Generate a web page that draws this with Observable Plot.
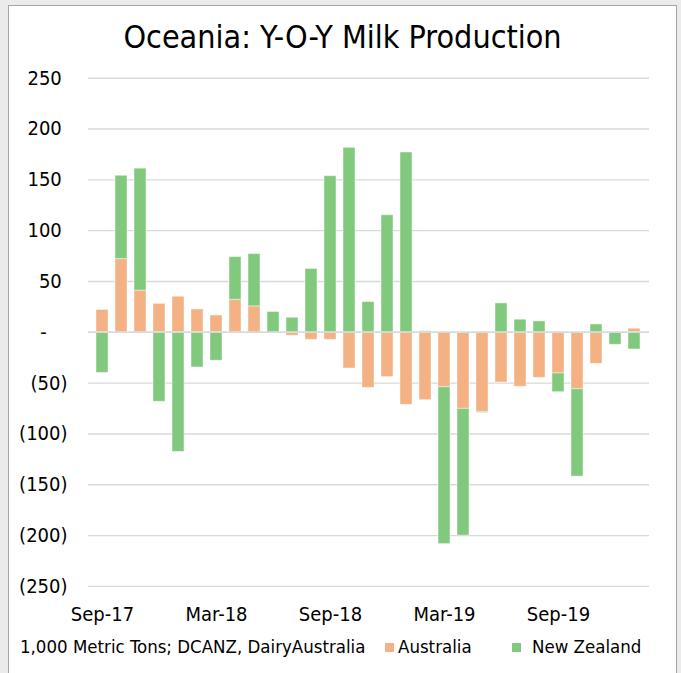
<!DOCTYPE html>
<html>
<head>
<meta charset="utf-8">
<script src="https://cdn.jsdelivr.net/npm/d3@7"></script>
<script src="https://cdn.jsdelivr.net/npm/@observablehq/plot@0.6"></script>
<style>
  html, body { margin: 0; padding: 0; background: #ebebeb; width: 681px; height: 673px; overflow: hidden; }
  body { font-family: "DejaVu Sans Condensed", "DejaVu Sans", sans-serif; color: #000; }
  #panel { position: absolute; left: 8px; top: 5px; width: 669px; height: 690px; box-sizing: border-box;
           border: 1px solid #a6a6a6; background: #fff; }
  #title { position: absolute; left: 0; top: 0; width: 667px; height: 54px; line-height: 62px;
           text-align: center; font-size: 32px; }
  #chart { position: absolute; left: 0; top: 54px; }
  #legend { position: absolute; left: 0; top: 624px; width: 667px; height: 34px; font-size: 18.5px; }
  #legend span { position: absolute; top: 0; line-height: 34px; white-space: nowrap; }
  #legend i { position: absolute; top: 13px; width: 9px; height: 9px; }
</style>
</head>
<body>
<div id="panel">
  <div id="title">Oceania: Y-O-Y Milk Production</div>
  <div id="chart"></div>
  <div id="legend">
    <span style="left:11px">1,000 Metric Tons; DCANZ, DairyAustralia</span>
    <i style="left:376px;background:#F4B183"></i>
    <span style="left:389px">Australia</span>
    <i style="left:503px;background:#81CA7D"></i>
    <span style="left:523px">New Zealand</span>
  </div>
</div>
<script>
const months = ["Sep-17","Oct-17","Nov-17","Dec-17","Jan-18","Feb-18","Mar-18","Apr-18","May-18","Jun-18",
  "Jul-18","Aug-18","Sep-18","Oct-18","Nov-18","Dec-18","Jan-19","Feb-19","Mar-19","Apr-19",
  "May-19","Jun-19","Jul-19","Aug-19","Sep-19","Oct-19","Nov-19","Dec-19","Jan-20"];
const australia = [22, 72, 41, 28, 35, 22.5, 16.6, 32, 25.5, -1, -3.4, -7.4, -7.4, -35.6, -54.7, -44.1, -71.4, -66.8,
  -54, -75.3, -78.3, -49.4, -53.6, -44.8, -40.5, -56, -31, 0, 3.5];
const newZealand = [-40, 82, 120, -68.4, -117.7, -34.6, -28, 42, 51.5, 20, 14.3, 62.3, 153.6, 181.5, 29.8, 115.2, 176.9, 1,
  -154.4, -124.8, -1, 28.4, 12.4, 10.7, -18.4, -86, 7.7, -12.3, -16.9];
const seriesNames = ["Australia", "New Zealand"];
const seriesColors = ["#F4B183", "#81CA7D"];
const xTickLabels = ["Sep-17","Mar-18","Sep-18","Mar-19","Sep-19"];
const yTicks = [250, 200, 150, 100, 50, 0, -50, -100, -150, -200, -250];

const rows = [
  ...months.map((m, i) => ({month: m, series: seriesNames[0], value: australia[i]})),
  ...months.map((m, i) => ({month: m, series: seriesNames[1], value: newZealand[i]}))
];

const NB = "\u00a0";
const fmtY = d => d === 0 ? "-" + NB.repeat(3) + "\u2009" : d < 0 ? `(${Math.abs(d)})` : `${d}${NB}`;

const chart = Plot.plot({
  width: 667,
  height: 576,
  marginLeft: 79,
  marginRight: 27,
  marginTop: 17.7,
  marginBottom: 50.1,
  style: {fontFamily: '"DejaVu Sans Condensed", "DejaVu Sans", sans-serif', fontSize: "20px", color: "#000", background: "transparent"},
  x: {domain: months, paddingInner: 0.35, paddingOuter: 0.175, align: 0.5, axis: null},
  y: {domain: [-250, 250], axis: null},
  color: {domain: seriesNames, range: seriesColors},
  marks: [
    Plot.ruleY(yTicks, {stroke: "#d9d9d9", strokeWidth: 1.4}),
    Plot.barY(rows, Plot.stackY({x: "month", y: "value", fill: "series", stroke: "#ffffff", strokeOpacity: 0.45, strokeWidth: 1, order: seriesNames})),
    Plot.ruleY([0], {stroke: "#d9d9d9", strokeWidth: 1.4}),
    Plot.axisY(yTicks, {tickSize: 0, tickPadding: 21, tickFormat: fmtY, fontSize: 20, textAnchor: "end", label: null}),
    Plot.axisX(xTickLabels, {tickSize: 0, tickPadding: 20, fontSize: 20, label: null})
  ]
});
document.getElementById("chart").appendChild(chart);
</script>
</body>
</html>
